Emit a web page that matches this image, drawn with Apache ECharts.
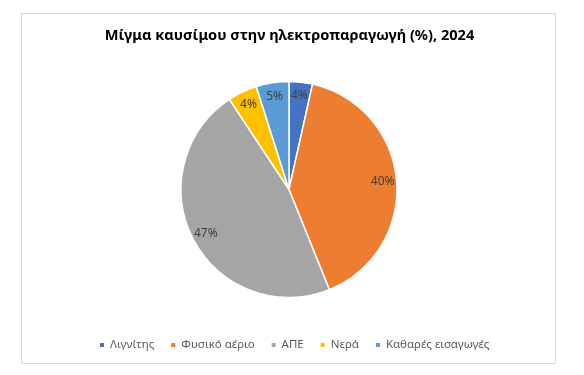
<!DOCTYPE html>
<html>
<head>
<meta charset="utf-8">
<script src="https://cdn.jsdelivr.net/npm/echarts@6/dist/echarts.min.js"></script>
<style>html,body{margin:0;padding:0;background:#fff;}#chart{width:579px;height:375px;}</style>
</head>
<body>
<div id="chart"></div>
<script>
const titleText = 'Μίγμα καυσίμου στην ηλεκτροπαραγωγή (%), 2024';
const categories = ['Λιγνίτης', 'Φυσικό αέριο', 'ΑΠΕ', 'Νερά', 'Καθαρές εισαγωγές'];
const values = [3.5, 40.4, 46.8, 4.4, 4.9];
const colors = ['#4472C4', '#ED7D31', '#A5A5A5', '#FFC000', '#5B9BD5'];

const data = categories.map((c, i) => ({ name: c, value: values[i], itemStyle: { color: colors[i] } }));
const labelData = categories.map((c, i) => ({ name: c, value: values[i] }));

const chart = echarts.init(document.getElementById('chart'), null, { renderer: 'canvas' });
const font = '"Noto Sans", "Open Sans", sans-serif';
chart.setOption({
  animation: false,
  backgroundColor: '#fff',
  title: {
    text: titleText,
    left: 'center',
    top: 28,
    padding: 0,
    textStyle: { fontFamily: font, fontSize: 14.6, fontWeight: 'bold', color: '#000' }
  },
  legend: {
    data: categories,
    left: 98,
    top: 339,
    padding: 0,
    icon: 'rect',
    itemWidth: 6,
    itemHeight: 6,
    itemGap: 15,
    selectedMode: false,
    textStyle: { fontFamily: font, fontSize: 11.5, color: '#595959' }
  },
  graphic: [{
    type: 'rect',
    shape: { x: 21.5, y: 13.5, width: 534, height: 350 },
    style: { fill: 'none', stroke: '#D9D9D9', lineWidth: 1 },
    silent: true
  }],
  series: [{
    type: 'pie',
    center: [289, 189.5],
    radius: [0, 108],
    startAngle: 90,
    clockwise: true,
    data: data,
    label: { show: false },
    labelLine: { show: false },
    itemStyle: { borderColor: '#fff', borderWidth: 1.5 },
    emphasis: { disabled: true }
  }, {
    type: 'pie',
    center: [289, 189.5],
    radius: [74, 108],
    startAngle: 90,
    clockwise: true,
    silent: true,
    data: labelData,
    itemStyle: { color: 'rgba(0,0,0,0)', borderWidth: 0 },
    label: {
      show: true,
      position: 'inside',
      fontFamily: font,
      fontSize: 12,
      color: '#404040',
      formatter: p => Math.round(p.value) + '%'
    },
    labelLine: { show: false },
    emphasis: { disabled: true }
  }]
});
</script>
</body>
</html>
